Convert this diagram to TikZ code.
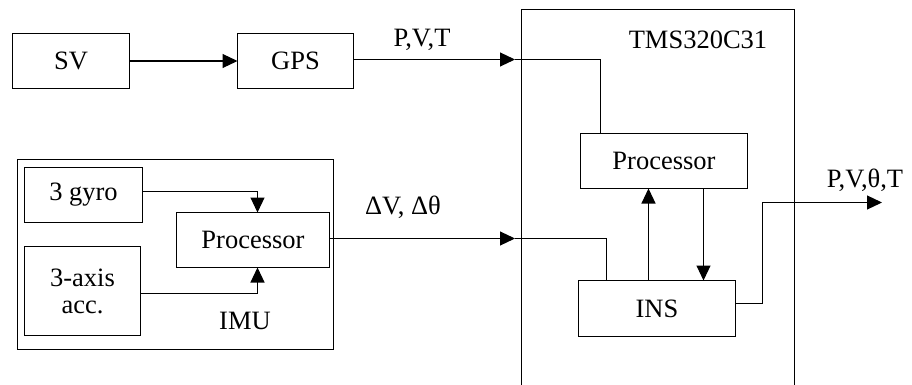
\documentclass[tikz,border=0pt]{standalone}
\usepackage{fontspec}
\setmainfont{Liberation Serif}
\newfontfamily\labelfont{Liberation Serif}
\usetikzlibrary{arrows.meta}
\begin{document}
\begin{tikzpicture}[x=1pt,y=-1pt,
  line width=1.1pt,
  blk/.style={draw, line width=1.1pt, minimum width=#1, inner sep=0pt, outer sep=0pt, anchor=north west},
  lbl/.style={font=\labelfont\fontsize{26.5}{29}\selectfont, inner sep=0pt},
  arr/.style={-{Triangle[length=15pt,width=14pt]}}]
\useasboundingbox (0,0) rectangle (912,385);

% GPS chain
\node[blk=117pt, minimum height=55pt, lbl] (sv) at (12.5,33.5) {SV};
\node[blk=116pt, minimum height=55pt, lbl] (gps) at (237.5,33.5) {GPS};
\draw[arr] (sv.east) -- (gps.west);
\node[lbl] (pvt) at (422,40) {P,V,T};

% IMU assembly
\node[blk=316pt, minimum height=190pt] (imu) at (17.5,159.5) {};
\node[blk=118pt, minimum height=55pt, lbl] (gyro) at (24.5,167.5) {3 gyro};
\node[blk=116pt, minimum height=89pt, lbl, align=center] (acc) at (24.5,246.5) {3-axis\\[-2pt]acc.};
\node[blk=153pt, minimum height=55pt, lbl] (iproc) at (176.5,212.5) {Processor};
\node[lbl] (imulbl) at (245,321) {IMU};
\draw[arr] (gyro.east |- 0,191.5) -| (iproc.north -| 257.5,0);
\draw[arr] (acc.east |- 0,293.5) -| (iproc.south -| 257.5,0);
\node[lbl] (dv) at (403,207) {ΔV, Δθ};

% TMS320C31 board (runs off the bottom edge)
\coordinate (tmsbl) at (521.5,390);
\coordinate (tmsbr) at (794.5,390);
\draw (tmsbl) -- (521.5,9.5) -- (794.5,9.5) -- (tmsbr);
\node[lbl] (tms) at (698,40) {TMS320C31};
\node[blk=167pt, minimum height=55pt, lbl] (dproc) at (580.5,133.5) {Processor};
\node[blk=157pt, minimum height=56pt, lbl] (ins) at (578.5,280.5) {INS};

% GPS into the board
\coordinate (gin) at (515,59.5);
\draw[arr] (gps.east |- 0,59.5) -- (gin);
\draw (gin) -| (dproc.north -| 600.5,0);

% IMU into the board
\coordinate (iin) at (515,238.5);
\draw[arr] (iproc.east |- 0,238.5) -- (iin);
\draw (iin) -| (ins.north -| 606.5,0);

% Processor <-> INS
\draw[arr] (ins.north -| 648.5,0) -- (dproc.south -| 648.5,0);
\draw[arr] (dproc.south -| 703.5,0) -- (ins.north -| 703.5,0);

% INS output
\coordinate (out) at (882,202.5);
\draw[arr] (ins.east |- 0,303.5) -- (762.5,303.5) -- (762.5,202.5) -- (out);
\node[lbl] (pvtt) at (865,180) {P,V,θ,T};
\end{tikzpicture}
\end{document}
